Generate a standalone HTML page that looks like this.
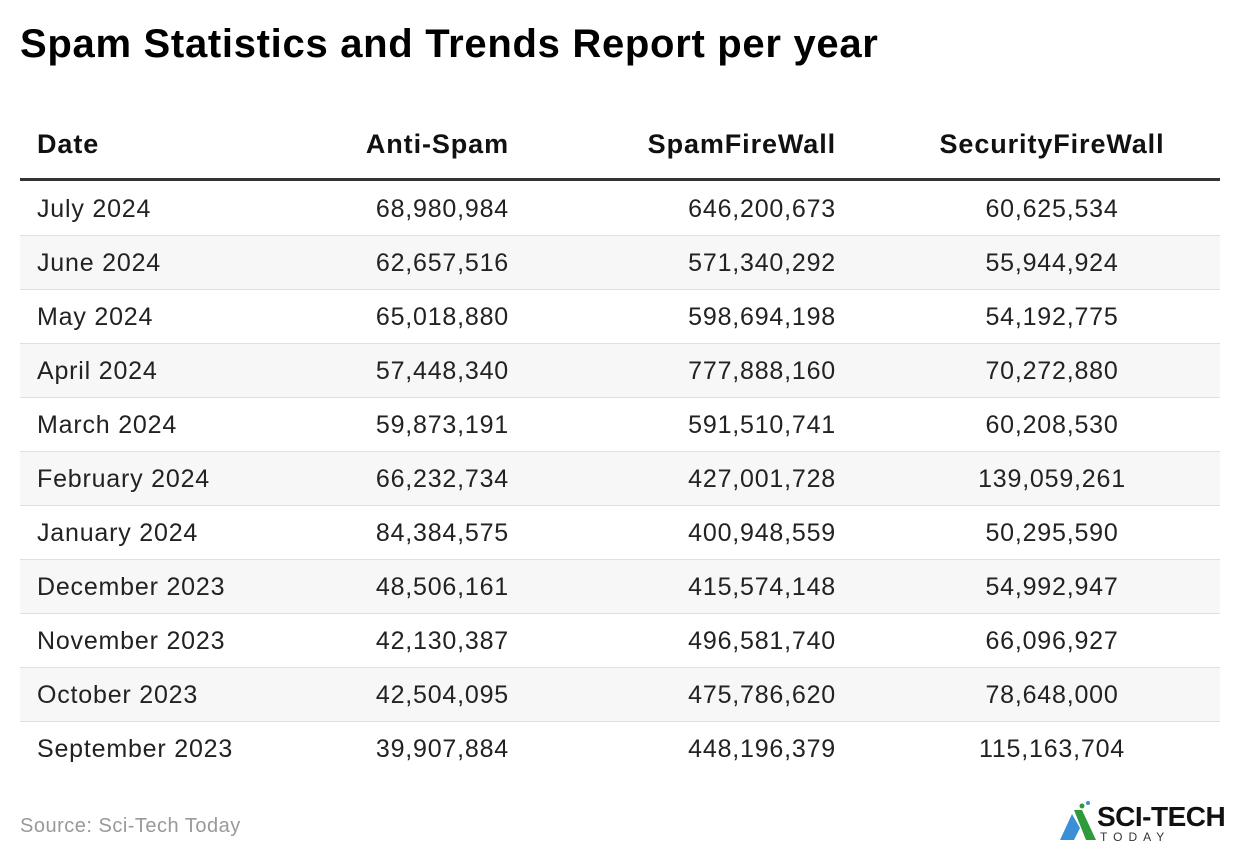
<!DOCTYPE html>
<html><head><meta charset="utf-8"><style>
body{margin:0;width:1240px;height:860px;background:#fff;font-family:"Liberation Sans",Arial,sans-serif;color:#222;position:relative;overflow:hidden}
.t{position:absolute;left:20px;top:22px;font-size:40px;font-weight:bold;color:#000;letter-spacing:0.7px;white-space:nowrap}
.hd{position:absolute;left:20px;top:118px;width:1200px;height:60px;border-bottom:3px solid #333}
.r{position:absolute;left:20px;width:1200px;height:53px;border-bottom:1px solid #e0e0e0}
.c{position:absolute;top:0;line-height:54px;font-size:25px;letter-spacing:0.8px;white-space:nowrap}
.hd .c{font-weight:bold;font-size:27px;letter-spacing:0.9px;line-height:52px;color:#111}
.c1{left:17px}.c2{right:711px}.c3{right:384px}.c4{left:832px;width:400px;text-align:center}
.src{position:absolute;left:20px;top:815px;font-size:20px;letter-spacing:0.5px;color:#999}
</style></head><body>
<div class="t">Spam Statistics and Trends Report per year</div>
<div class="hd"><span class="c c1">Date</span><span class="c c2">Anti-Spam</span><span class="c c3">SpamFireWall</span><span class="c c4">SecurityFireWall</span></div>
<div class="r" style="top:182px"><span class="c c1">July 2024</span><span class="c c2">68,980,984</span><span class="c c3">646,200,673</span><span class="c c4">60,625,534</span></div>
<div class="r" style="top:236px;background:#f7f7f7"><span class="c c1">June 2024</span><span class="c c2">62,657,516</span><span class="c c3">571,340,292</span><span class="c c4">55,944,924</span></div>
<div class="r" style="top:290px"><span class="c c1">May 2024</span><span class="c c2">65,018,880</span><span class="c c3">598,694,198</span><span class="c c4">54,192,775</span></div>
<div class="r" style="top:344px;background:#f7f7f7"><span class="c c1">April 2024</span><span class="c c2">57,448,340</span><span class="c c3">777,888,160</span><span class="c c4">70,272,880</span></div>
<div class="r" style="top:398px"><span class="c c1">March 2024</span><span class="c c2">59,873,191</span><span class="c c3">591,510,741</span><span class="c c4">60,208,530</span></div>
<div class="r" style="top:452px;background:#f7f7f7"><span class="c c1">February 2024</span><span class="c c2">66,232,734</span><span class="c c3">427,001,728</span><span class="c c4">139,059,261</span></div>
<div class="r" style="top:506px"><span class="c c1">January 2024</span><span class="c c2">84,384,575</span><span class="c c3">400,948,559</span><span class="c c4">50,295,590</span></div>
<div class="r" style="top:560px;background:#f7f7f7"><span class="c c1">December 2023</span><span class="c c2">48,506,161</span><span class="c c3">415,574,148</span><span class="c c4">54,992,947</span></div>
<div class="r" style="top:614px"><span class="c c1">November 2023</span><span class="c c2">42,130,387</span><span class="c c3">496,581,740</span><span class="c c4">66,096,927</span></div>
<div class="r" style="top:668px;background:#f7f7f7"><span class="c c1">October 2023</span><span class="c c2">42,504,095</span><span class="c c3">475,786,620</span><span class="c c4">78,648,000</span></div>
<div class="r" style="top:722px;border-bottom:none"><span class="c c1">September 2023</span><span class="c c2">39,907,884</span><span class="c c3">448,196,379</span><span class="c c4">115,163,704</span></div>
<div class="src">Source: Sci-Tech Today</div>
<svg style="position:absolute;left:1058px;top:800px" width="40" height="42">
<polygon points="2,40 14,14 22,28 16,40" fill="#3a8fd6"/>
<polygon points="16,10 24,10 38,40 28,40" fill="#2f9a3a"/>
<circle cx="24" cy="6" r="2.5" fill="#2f9a3a"/><circle cx="30" cy="3" r="2" fill="#3a8fd6"/>
</svg>
<div style="position:absolute;left:1097px;top:801px;font-size:28px;font-weight:bold;color:#111;letter-spacing:-0.5px">SCI-TECH</div>
<div style="position:absolute;left:1100px;top:830px;font-size:12px;color:#333;letter-spacing:6px">TODAY</div>
</body></html>
